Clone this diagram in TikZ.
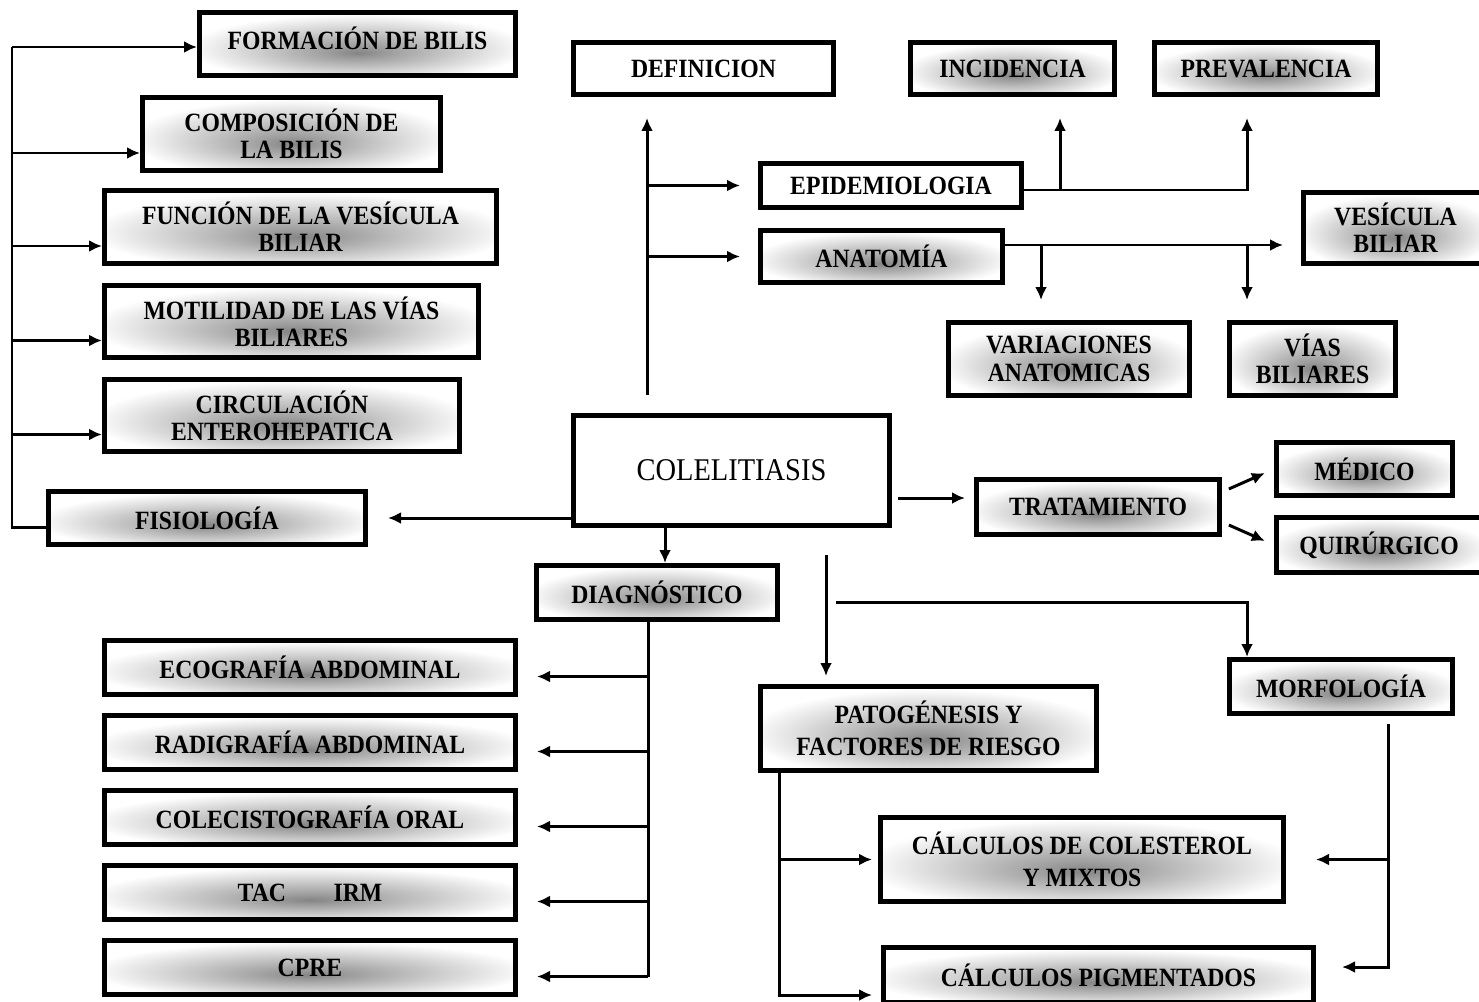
\documentclass[tikz,border=0pt]{standalone}
\usepackage{fontspec}
\setmainfont{Liberation Serif}[FakeStretch=0.9]
\usetikzlibrary{arrows.meta}
\pgfdeclareradialshading{glow}{\pgfpoint{0bp}{-7bp}}{color(0bp)=(black!48); color(5bp)=(black!38); color(27bp)=(white); color(50bp)=(white)}

\begin{document}
\begin{tikzpicture}[
  x=0.02cm,
  y=-0.02cm,
  conn/.style={line width=1.7pt},
  arr/.style={conn,-{Latex[length=2.6mm,width=2.4mm]}},
  plainbox/.style={draw,line width=2.8pt,fill=white,align=center,inner sep=0pt,
    font=\bfseries\fontsize{15}{15.5}\selectfont},
  glowbox/.style={plainbox,shading=glow},
  widelines/.style={font=\bfseries\fontsize{15}{18}\selectfont}
]
  \newcommand{\mapbox}[7]{%
    \node[#2,minimum width=#5*0.02cm-2.8pt,minimum height=#6*0.02cm-2.8pt] (#1) at (#3,#4) {#7};
  }
  \useasboundingbox (0,0) rectangle (1479,1001);

  % Physiology branch, left
  \mapbox{form}{glowbox}{357.5}{44}{321}{68}{\raisebox{0.25cm}{FORMACIÓN DE BILIS}}
  \mapbox{comp}{glowbox}{291.5}{134}{303}{78}{COMPOSICIÓN DE\\LA BILIS}
  \mapbox{func}{glowbox}{300.5}{227}{397}{78}{FUNCIÓN DE LA VESÍCULA\\BILIAR}
  \mapbox{moti}{glowbox}{291.5}{321.5}{379}{77}{MOTILIDAD DE LAS VÍAS\\BILIARES}
  \mapbox{circ}{glowbox}{282}{415.5}{360}{77}{CIRCULACIÓN\\ENTEROHEPATICA}
  \mapbox{fisio}{glowbox}{207}{518}{322}{58}{FISIOLOGÍA}

  % Definition, epidemiology, anatomy
  \mapbox{defi}{plainbox}{703.5}{68.5}{265}{57}{DEFINICION}
  \mapbox{inci}{glowbox}{1012.5}{68.5}{209}{57}{INCIDENCIA}
  \mapbox{prev}{glowbox}{1266}{68.5}{228}{57}{PREVALENCIA}
  \mapbox{epid}{plainbox}{891}{185.5}{266}{49}{EPIDEMIOLOGIA}
  \mapbox{anat}{glowbox}{881.5}{256.5}{247}{57}{ANATOMÍA}
  \mapbox{vesi}{glowbox}{1395.5}{228}{189}{76}{VESÍCULA\\BILIAR}
  \mapbox{vari}{glowbox}{1069}{359}{246}{78}{VARIACIONES\\ANATOMICAS}
  \mapbox{vias}{glowbox}{1312.5}{359}{171}{78}{VÍAS\\BILIARES}

  % Centre and treatment
  \mapbox{cole}{plainbox,font=\fontsize{18}{20}\selectfont}{731.5}{470.5}{321}{115}{COLELITIASIS}
  \mapbox{trat}{glowbox}{1098}{507}{248}{60}{TRATAMIENTO}
  \mapbox{medi}{glowbox}{1364.5}{469}{181}{58}{MÉDICO}
  \mapbox{quir}{glowbox}{1379}{545}{210}{60}{QUIRÚRGICO}

  % Diagnosis
  \mapbox{diag}{glowbox}{657}{592.5}{246}{59}{DIAGNÓSTICO}
  \mapbox{eco}{glowbox}{310}{667.5}{416}{59}{ECOGRAFÍA ABDOMINAL}
  \mapbox{rad}{glowbox}{310}{742.5}{416}{59}{RADIGRAFÍA ABDOMINAL}
  \mapbox{col}{glowbox}{310}{817.5}{416}{59}{COLECISTOGRAFÍA ORAL}
  \mapbox{tac}{glowbox}{310}{892.5}{416}{59}{TAC\hspace{0.95cm}IRM}
  \mapbox{cpre}{glowbox}{310}{967.5}{416}{59}{CPRE}

  % Pathogenesis and morphology
  \mapbox{pato}{glowbox,widelines}{928.5}{728.5}{341}{89}{PATOGÉNESIS Y\\FACTORES DE RIESGO}
  \mapbox{morf}{glowbox}{1341}{686.5}{228}{59}{MORFOLOGÍA}
  \mapbox{calc}{glowbox,widelines}{1082}{859.5}{408}{89}{CÁLCULOS DE COLESTEROL\\Y MIXTOS}
  \mapbox{pigm}{glowbox}{1098.5}{975}{435}{60}{CÁLCULOS PIGMENTADOS}

  % Left spine
  \coordinate (spineL) at (12,47);
  \draw[conn] ([yshift=-0.18cm]fisio.west) -| (spineL);
  \draw[arr] (spineL) -- (spineL -| form.west);
  \foreach \n in {comp,func,moti,circ} {
    \coordinate (\n-in) at ([yshift=-0.38cm]\n.west);
    \draw[arr] (spineL |- \n-in) -- (\n-in);
  }
  \draw[arr,shorten >=0.4cm] (cole.west |- fisio) -- (fisio.east);

  % Upper spine
  \coordinate (spineT) at (647,395);
  \draw[arr,shorten >=0.42cm] (spineT) -- (spineT |- defi.south);
  \draw[arr,shorten >=0.36cm] (spineT |- epid) -- (epid.west);
  \draw[arr,shorten >=0.36cm] (spineT |- anat) -- (anat.west);

  \coordinate (incjoin) at (1060,190);
  \coordinate (prevjoin) at (1247,190);
  \draw[arr,shorten >=0.42cm] (epid.east |- prevjoin) -- (prevjoin) -- (prevjoin |- prev.south);
  \draw[arr,shorten >=0.42cm] (incjoin) -- (incjoin |- inci.south);

  \coordinate (anjoinA) at (1041,245);
  \coordinate (anjoinB) at (1247,245);
  \draw[arr,shorten >=0.36cm] (anat.east |- anjoinA) -- (anjoinA -| vesi.west);
  \draw[arr,shorten >=0.4cm] (anjoinA) -- (anjoinA |- vari.north);
  \draw[arr,shorten >=0.4cm] (anjoinB) -- (anjoinB |- vias.north);

  % Treatment
  \coordinate (ctrat) at (898,498);
  \draw[arr,shorten >=0.18cm] (ctrat) -- (ctrat -| trat.west);
  \draw[arr,shorten <=0.15cm,shorten >=0.2cm] ([yshift=0.3cm]trat.east) -- (medi.west);
  \draw[arr,shorten <=0.15cm,shorten >=0.2cm] ([yshift=-0.3cm]trat.east) -- (quir.west);

  % Diagnosis spine
  \coordinate (cdiag) at (665,528);
  \draw[arr] (cdiag) -- (cdiag |- diag.north);
  \coordinate (dspine) at (648,622);
  \foreach \n in {eco,rad,col,tac,cpre} {
    \coordinate (\n-in) at ([yshift=-0.18cm]\n.east);
    \draw[arr,shorten >=0.38cm] (dspine |- \n-in) -- (\n-in);
  }
  \draw[conn] (dspine) -- (dspine |- cpre-in);

  % Pathogenesis and morphology
  \coordinate (cpato) at (826,555);
  \draw[arr,shorten >=0.16cm] (cpato) -- (cpato |- pato.north);
  \coordinate (cmorf) at (836,602);
  \coordinate (mjoin) at (1247,602);
  \draw[arr] (cmorf) -- (mjoin) -- (mjoin |- morf.north);

  \coordinate (pspine) at (779,773);
  \draw[arr,shorten >=0.18cm] (pspine) |- ([yshift=-0.4cm]pigm.west);
  \draw[arr,shorten >=0.12cm] (pspine |- calc.west) -- (calc.west);

  \coordinate (mspine) at (1388,724);
  \draw[arr,shorten >=0.52cm] (mspine) |- ([yshift=0.16cm]pigm.east);
  \draw[arr,shorten >=0.6cm] (mspine |- calc.east) -- (calc.east);
\end{tikzpicture}
\end{document}
